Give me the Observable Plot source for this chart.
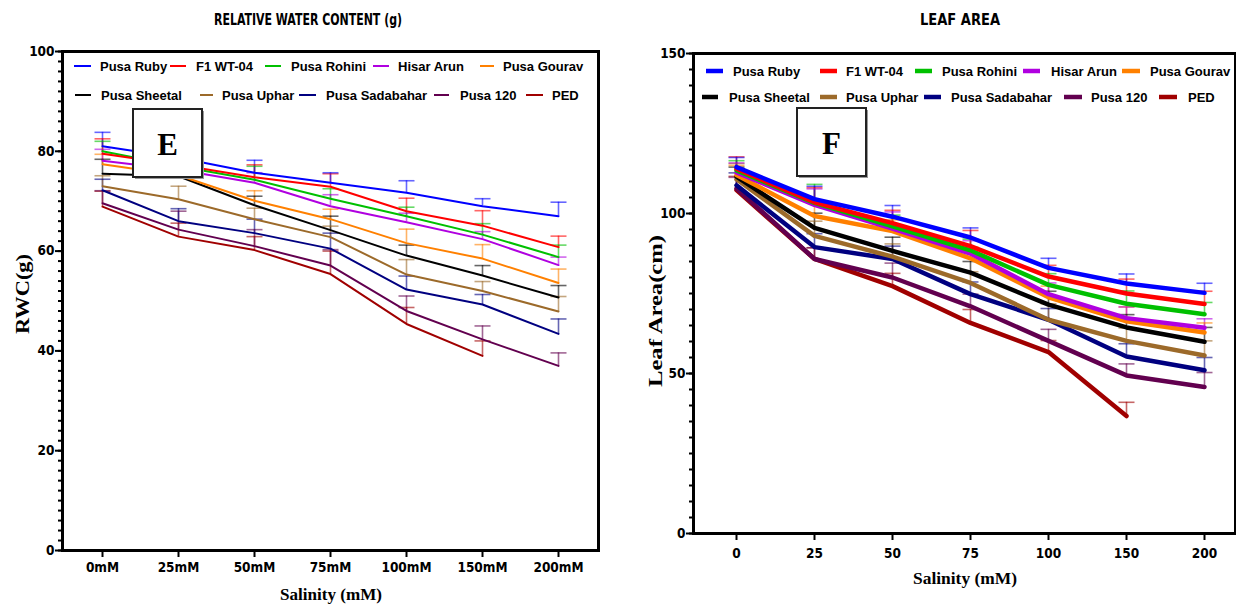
<!DOCTYPE html>
<html><head><meta charset="utf-8">
<script src="https://cdn.jsdelivr.net/npm/d3@7"></script>
<script src="https://cdn.jsdelivr.net/npm/@observablehq/plot@0.6"></script>
<style>
html,body{margin:0;padding:0;background:#fff;}
#wrap{position:relative;width:1236px;height:605px;overflow:hidden;background:#fff;}
#left,#right{position:absolute;top:0;}
#left{left:0;} #right{left:618px;}
#overlay{position:absolute;left:0;top:0;}
</style></head><body>
<div id="wrap"><div id="left"></div><div id="right"></div><svg id="overlay" width="1236" height="605"></svg></div>
<script>
// ---------- data ----------
const seriesNames = ["Pusa Ruby","F1 WT-04","Pusa Rohini","Hisar Arun","Pusa Gourav","Pusa Sheetal","Pusa Uphar","Pusa Sadabahar","Pusa 120","PED"];
const seriesColors = ["#0000FF","#FF0000","#00C000","#B000E0","#FF8000","#000000","#9C6A2A","#000080","#62004F","#A00000"];

const rwcSalinity = ["0mM","25mM","50mM","75mM","100mM","150mM","200mM"];
const laSalinity = ["0","25","50","75","100","150","200"];

// Relative water content (means)
const rwcPusaRuby      = [81.0, 78.7, 75.7, 73.7, 71.7, 69.0, 67.0];
const rwcF1WT04        = [79.5, 77.3, 74.8, 72.9, 68.0, 65.1, 60.8];
const rwcPusaRohini    = [80.0, 77.0, 74.3, 70.5, 67.0, 63.3, 58.8];
const rwcHisarArun     = [78.1, 76.3, 73.7, 69.0, 65.8, 62.4, 57.2];
const rwcPusaGourav    = [77.4, 75.2, 70.1, 66.4, 61.6, 58.5, 53.6];
const rwcPusaSheetal   = [75.5, 75.0, 69.2, 64.2, 59.1, 55.1, 50.7];
const rwcPusaUphar     = [73.0, 70.4, 66.4, 62.8, 55.3, 52.0, 47.9];
const rwcPusaSadabahar = [72.2, 66.0, 63.6, 60.5, 52.3, 49.3, 43.4];
const rwcPusa120       = [69.6, 64.3, 61.0, 57.1, 48.0, 42.3, 37.0];
const rwcPED           = [68.9, 62.9, 60.2, 55.4, 45.4, 39.0];
// Relative water content (error)
const rwcErrPusaRuby      = [2.8, 2.5, 2.5, 2.0, 2.4, 1.5, 2.8];
const rwcErrF1WT04        = [3.0, 2.2, 2.5, 2.6, 2.6, 3.0, 2.2];
const rwcErrPusaRohini    = [2.0, 2.0, 2.7, 2.0, 1.8, 2.2, 2.4];
const rwcErrHisarArun     = [2.3, 2.0, 2.0, 2.3, 1.8, 1.5, 1.6];
const rwcErrPusaGourav    = [2.0, 2.0, 2.0, 2.0, 2.8, 2.8, 2.8];
const rwcErrPusaSheetal   = [2.9, 2.0, 1.8, 2.8, 2.1, 2.0, 2.4];
const rwcErrPusaUphar     = [2.1, 2.6, 2.2, 2.2, 3.0, 1.9, 3.0];
const rwcErrPusaSadabahar = [2.2, 2.5, 2.8, 3.1, 2.7, 2.0, 3.0];
const rwcErrPusa120       = [2.5, 3.7, 3.3, 3.2, 3.0, 2.7, 2.6];
const rwcErrPED           = [3.1, 2.7, 2.7, 4.6, 3.3, 3.0];

// Leaf area (means)
const laPusaRuby      = [114.5, 104.5, 99.0, 92.5, 83.0, 78.1, 75.2];
const laF1WT04        = [114.0, 103.5, 97.0, 89.8, 80.3, 75.0, 71.7];
const laPusaRohini    = [113.5, 103.3, 96.0, 88.5, 77.7, 71.8, 68.5];
const laHisarArun     = [112.8, 102.7, 95.3, 87.5, 74.8, 67.3, 64.3];
const laPusaGourav    = [112.0, 99.2, 94.5, 86.0, 73.8, 66.3, 62.8];
const laPusaSheetal   = [111.5, 95.5, 88.3, 81.5, 71.5, 64.4, 59.9];
const laPusaUphar     = [110.7, 93.0, 86.5, 78.3, 66.8, 60.2, 55.6];
const laPusaSadabahar = [108.8, 89.5, 85.8, 74.8, 66.8, 55.3, 51.0];
const laPusa120       = [107.8, 85.8, 80.0, 71.0, 60.2, 49.4, 45.8];
const laPED           = [107.3, 85.8, 77.3, 65.8, 56.7, 36.7];
// Leaf area (error)
const laErrPusaRuby      = [3.0, 4.0, 3.5, 3.0, 3.0, 3.0, 3.0];
const laErrF1WT04        = [3.7, 4.6, 4.0, 4.9, 3.5, 4.5, 4.0];
const laErrPusaRohini    = [3.0, 5.8, 3.5, 3.5, 3.5, 4.0, 3.7];
const laErrHisarArun     = [3.0, 5.0, 5.2, 4.0, 3.5, 3.5, 2.8];
const laErrPusaGourav    = [3.0, 4.0, 3.5, 3.5, 3.5, 4.5, 3.0];
const laErrPusaSheetal   = [3.0, 4.6, 4.3, 3.5, 4.2, 4.0, 4.5];
const laErrPusaUphar     = [4.9, 4.6, 4.0, 3.5, 5.0, 4.0, 4.6];
const laErrPusaSadabahar = [3.9, 4.2, 4.0, 3.8, 3.5, 4.0, 4.0];
const laErrPusa120       = [3.5, 3.5, 4.5, 3.8, 3.6, 3.6, 4.5];
const laErrPED           = [4.3, 3.5, 4.0, 4.2, 3.6, 4.3];

const rwcTicks = [0, 20, 40, 60, 80, 100];
const laTicks = [0, 50, 100, 150];

// ---------- build tables ----------
const rwcMeans = [rwcPusaRuby,rwcF1WT04,rwcPusaRohini,rwcHisarArun,rwcPusaGourav,rwcPusaSheetal,rwcPusaUphar,rwcPusaSadabahar,rwcPusa120,rwcPED];
const rwcErrs = [rwcErrPusaRuby,rwcErrF1WT04,rwcErrPusaRohini,rwcErrHisarArun,rwcErrPusaGourav,rwcErrPusaSheetal,rwcErrPusaUphar,rwcErrPusaSadabahar,rwcErrPusa120,rwcErrPED];
const laMeans = [laPusaRuby,laF1WT04,laPusaRohini,laHisarArun,laPusaGourav,laPusaSheetal,laPusaUphar,laPusaSadabahar,laPusa120,laPED];
const laErrs = [laErrPusaRuby,laErrF1WT04,laErrPusaRohini,laErrHisarArun,laErrPusaGourav,laErrPusaSheetal,laErrPusaUphar,laErrPusaSadabahar,laErrPusa120,laErrPED];

function buildTable(cats, means, errs) {
  const out = [];
  for (let i = seriesNames.length - 1; i >= 0; i--) {
    means[i].forEach((v, j) => out.push({series: seriesNames[i], x: cats[j], y: v, e: errs[i][j]}));
  }
  return out;
}
const rwcData = buildTable(rwcSalinity, rwcMeans, rwcErrs);
const laData = buildTable(laSalinity, laMeans, laErrs);

const cap = (hw) => ({draw(ctx) { ctx.moveTo(-hw, 0); ctx.lineTo(hw, 0); }});
const tickFont = "'Liberation Sans Narrow','Arial Narrow','DejaVu Sans Condensed',sans-serif";

function makePlot(o) {
  return Plot.plot({
    width: 618, height: 605,
    marginTop: o.mt, marginBottom: o.mb, marginLeft: o.ml, marginRight: o.mr,
    style: {fontFamily: tickFont, fontSize: "13.5px", fontWeight: "bold", color: "black", background: "transparent", overflow: "visible"},
    x: {type: "point", domain: o.cats, range: o.xr, padding: 0},
    y: {domain: o.yd},
    color: {domain: seriesNames, range: seriesColors},
    marks: [
      Plot.axisY({ticks: o.minor, tickSize: 4, tickFormat: () => "", strokeWidth: 2, label: null}),
      Plot.axisY({ticks: o.major, tickSize: 7, tickPadding: 1, strokeWidth: 2, label: null}),
      Plot.axisX({tickSize: 7, tickPadding: o.xpad, strokeWidth: 2, label: null}),
      Plot.ruleX(o.data, {x: "x", y1: "y", y2: d => d.y + d.e, stroke: "series", strokeWidth: 1.6, strokeOpacity: 0.6}),
      Plot.dot(o.data, {x: "x", y: d => d.y + d.e, symbol: cap(8), stroke: "series", strokeWidth: 1.6, strokeOpacity: 0.6, fill: "none"}),
      Plot.line(o.data, {x: "x", y: "y", z: "series", stroke: "series", strokeWidth: o.lw}),
      Plot.frame({stroke: "black", strokeWidth: 3})
    ]
  });
}

document.getElementById("left").append(makePlot({
  mt: 51, mb: 55, ml: 62, mr: 20, cats: rwcSalinity, xr: [101, 558], yd: [0, 100],
  minor: d3.range(0, 101, 2), major: rwcTicks, xpad: 5, data: rwcData, lw: 2
}));
document.getElementById("right").append(makePlot({
  mt: 53, mb: 72, ml: 75, mr: 1, cats: laSalinity, xr: [115, 588], yd: [0, 150],
  minor: d3.range(0, 151, 5), major: laTicks, xpad: 8, data: laData, lw: 4.5
}));

// ---------- overlay text, legend, panel boxes ----------
const ov = d3.select("#overlay");
const serif = "'Liberation Serif','Times New Roman',serif";
const sans = "'Liberation Sans',Arial,sans-serif";
function label(x, y, s, o) {
  const t = ov.append("text").attr("x", 0).attr("y", 0)
    .attr("transform", `translate(${x},${y})` + (o.rot ? ` rotate(${o.rot})` : ""))
    .attr("text-anchor", o.anchor || "middle").attr("dy", "0.35em")
    .attr("font-family", o.font).attr("font-size", o.size).attr("font-weight", "bold").text(s);
  if (o.len) t.attr("textLength", o.len).attr("lengthAdjust", "spacingAndGlyphs");
}
label(308, 20, "RELATIVE WATER CONTENT (g)", {font: tickFont, size: 15, len: 188});
label(960, 20, "LEAF AREA", {font: tickFont, size: 15, len: 80});
label(22, 294, "RWC(g)", {font: serif, size: 19, rot: -90, len: 80});
label(655, 311, "Leaf Area(cm)", {font: serif, size: 19, rot: -90, len: 152});
label(331, 594, "Salinity (mM)", {font: serif, size: 17, len: 102});
label(965, 578, "Salinity (mM)", {font: serif, size: 17, len: 104});

const leftLegend = [[74,91,100,66],[170,186,196,66],[265,281,291,66],[373,389,398,66],[480,494,503,66],
                    [75,91,101,95],[200,213,222,95],[299,316,326,95],[434,449,460,95],[526,543,552,95]];
const rightLegend = [[706,723,733,71],[820,837,846,71],[915,932,942,71],[1023,1040,1051,71],[1122,1140,1150,71],
                     [702,718,729,97],[820,837,846,97],[924,941,951,97],[1064,1082,1091,97],[1159,1177,1188,97]];
function legend(pos, sw) {
  pos.forEach((p, i) => {
    ov.append("line").attr("x1", p[0]).attr("x2", p[1]).attr("y1", p[3]).attr("y2", p[3])
      .attr("stroke", seriesColors[i]).attr("stroke-width", sw);
    label(p[2], p[3], seriesNames[i], {font: sans, size: 13, anchor: "start"});
  });
}
legend(leftLegend, 2);
legend(rightLegend, 4.5);

function panelBox(x, y, w, h, s) {
  ov.append("rect").attr("x", x + 2).attr("y", y + 2).attr("width", w).attr("height", h).attr("fill", "#999");
  ov.append("rect").attr("x", x).attr("y", y).attr("width", w).attr("height", h)
    .attr("fill", "white").attr("stroke", "#222").attr("stroke-width", 2);
  label(x + w / 2, y + h / 2 + 1, s, {font: serif, size: 31});
}
panelBox(133, 109, 69, 68, "E");
panelBox(797, 108, 69, 68, "F");
</script>
</body></html>
